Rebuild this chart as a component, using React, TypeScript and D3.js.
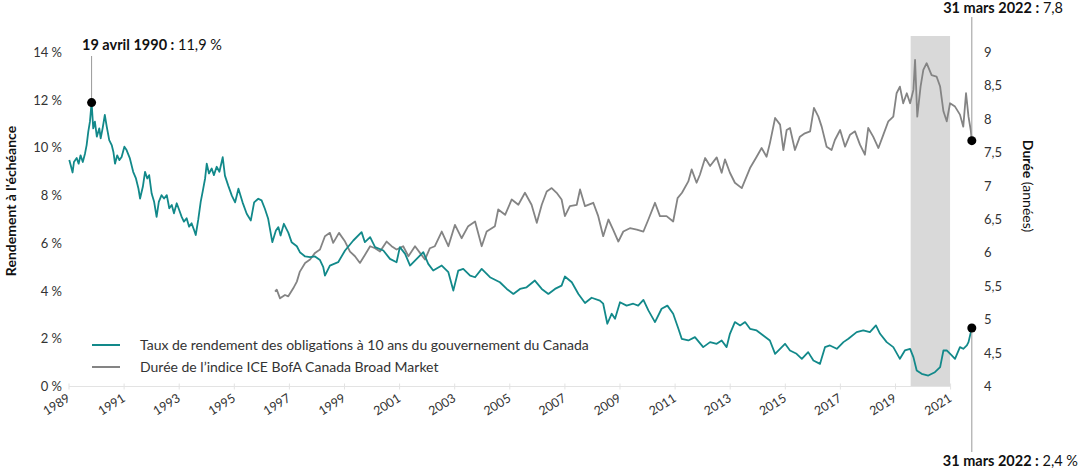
import React from "react";
import * as d3 from "d3";

// ---------- DATA ----------
// Government of Canada 10-year bond yield (%), [decimal year, value]
const yieldSeries: [number, number][] = [
  [1989.49,9.49],[1989.54,9.28],[1989.61,8.97],[1989.66,9.41],[1989.76,9.58],[1989.83,9.34],[1989.90,9.69],[1989.98,9.41],
  [1990.06,9.76],[1990.12,10.12],[1990.18,10.68],[1990.24,11.10],[1990.30,11.9],[1990.36,10.82],[1990.42,11.10],[1990.49,10.47],
  [1990.58,10.82],[1990.63,10.40],[1990.70,10.82],[1990.78,11.38],[1990.85,10.89],[1990.94,10.33],
  [1991.03,10.12],[1991.09,9.84],[1991.15,9.34],[1991.23,9.69],[1991.31,9.49],[1991.39,9.62],[1991.49,10.05],[1991.57,9.91],
  [1991.69,9.56],[1991.81,9.0],[1991.91,8.72],
  [1992.00,8.30],[1992.06,7.88],[1992.16,8.37],[1992.24,9.0],[1992.32,8.72],[1992.39,8.86],[1992.48,8.09],[1992.57,7.74],
  [1992.66,7.11],[1992.74,7.74],[1992.84,8.02],[1992.93,7.88],
  [1993.03,8.02],[1993.12,7.47],[1993.21,7.61],[1993.29,7.26],[1993.39,7.68],[1993.48,7.40],[1993.57,7.11],[1993.65,6.91],
  [1993.75,7.05],[1993.84,6.70],[1993.93,6.84],
  [1994.02,6.56],[1994.08,6.35],[1994.17,6.98],[1994.26,7.74],[1994.33,8.16],[1994.42,8.72],[1994.48,9.34],[1994.56,8.93],
  [1994.66,9.14],[1994.74,8.86],[1994.84,9.21],[1994.94,9.0],
  [1995.06,9.61],[1995.14,8.84],[1995.26,8.42],[1995.39,8.0],[1995.51,7.72],[1995.63,8.29],[1995.78,7.72],[1995.93,7.24],
  [1996.08,6.96],[1996.20,7.72],[1996.35,7.87],[1996.47,7.80],[1996.59,7.45],[1996.71,7.03],[1996.86,6.05],[1996.99,6.54],
  [1997.08,6.68],[1997.16,6.33],[1997.28,6.82],[1997.44,6.45],[1997.56,6.05],[1997.75,5.88],[1997.86,5.63],
  [1998.05,5.45],[1998.23,5.42],[1998.41,5.45],[1998.59,5.3],[1998.71,5.0],[1998.77,4.65],[1998.95,5.07],
  [1999.25,5.21],[1999.50,5.70],[1999.80,6.12],
  [2000.10,6.47],[2000.22,6.05],[2000.41,6.26],[2000.59,5.84],[2000.89,5.70],
  [2001.13,5.35],[2001.37,5.21],[2001.49,5.84],[2001.68,5.56],[2001.86,5.07],
  [2002.10,5.35],[2002.34,5.63],[2002.52,5.14],[2002.70,4.86],
  [2003.01,5.07],[2003.25,4.79],[2003.43,4.02],[2003.61,4.86],[2003.79,4.93],
  [2004.04,4.65],[2004.22,4.58],[2004.46,4.93],[2004.76,4.58],
  [2005.12,4.37],[2005.37,4.09],[2005.61,3.88],[2005.85,4.09],
  [2006.09,4.16],[2006.39,4.44],[2006.64,4.09],[2006.88,3.88],
  [2007.12,4.09],[2007.36,4.23],[2007.48,4.61],[2007.73,4.37],[2007.97,3.88],
  [2008.21,3.50],[2008.45,3.72],[2008.75,3.60],[2008.87,3.47],
  [2009.02,2.63],[2009.18,3.05],[2009.30,2.84],[2009.48,3.53],[2009.72,3.39],[2009.96,3.47],
  [2010.14,3.39],[2010.33,3.63],[2010.51,3.19],[2010.75,2.70],[2010.99,3.26],
  [2011.20,3.39],[2011.41,3.05],[2011.60,2.42],[2011.72,2.0],[2011.96,1.93],
  [2012.20,2.07],[2012.50,1.65],[2012.75,1.86],[2012.99,1.79],
  [2013.17,1.93],[2013.35,1.65],[2013.47,2.21],[2013.65,2.70],[2013.84,2.56],
  [2014.02,2.70],[2014.20,2.42],[2014.44,2.35],[2014.68,2.14],[2014.92,1.93],
  [2015.11,1.37],[2015.29,1.58],[2015.47,1.79],[2015.65,1.51],[2015.89,1.37],
  [2016.08,1.16],[2016.31,1.44],[2016.50,1.09],[2016.74,0.95],[2016.92,1.65],
  [2017.10,1.72],[2017.35,1.58],[2017.59,1.86],[2017.77,2.0],
  [2018.07,2.28],[2018.31,2.35],[2018.55,2.28],[2018.77,2.56],[2018.92,2.21],
  [2019.16,1.86],[2019.40,1.65],[2019.64,1.16],[2019.82,1.51],
  [2020.01,1.58],[2020.13,1.23],[2020.25,0.67],[2020.43,0.53],[2020.67,0.46],[2020.91,0.60],
  [2021.10,0.81],[2021.22,1.51],[2021.34,1.51],[2021.52,1.30],[2021.64,1.16],[2021.82,1.65],[2021.94,1.58],
  [2022.07,1.72],[2022.13,1.86],[2022.25,2.45],
];

// ICE BofA Canada Broad Market index duration (years), [decimal year, value]
const durationSeries: [number, number][] = [
  [1996.96,5.42],[1997.02,5.45],[1997.14,5.32],[1997.32,5.37],[1997.44,5.35],[1997.62,5.47],[1997.75,5.57],[1997.86,5.72],
  [1998.05,5.85],[1998.23,5.90],[1998.41,6.0],[1998.59,6.05],[1998.77,6.25],[1998.95,6.30],
  [1999.07,6.15],[1999.28,6.30],[1999.50,6.17],[1999.68,6.02],[1999.86,5.95],
  [2000.04,5.85],[2000.22,5.97],[2000.41,6.10],[2000.59,6.07],[2000.77,6.02],
  [2001.01,6.17],[2001.19,6.10],[2001.37,6.05],[2001.61,6.10],[2001.80,5.95],
  [2002.04,6.10],[2002.22,6.0],[2002.40,5.90],[2002.58,6.07],[2002.76,6.10],
  [2003.01,6.32],[2003.25,6.10],[2003.49,6.42],[2003.73,6.22],[2003.97,6.40],
  [2004.22,6.47],[2004.46,6.10],[2004.64,6.32],[2004.94,6.40],
  [2005.06,6.65],[2005.31,6.57],[2005.55,6.80],[2005.79,6.72],
  [2006.03,6.90],[2006.27,6.72],[2006.46,6.45],[2006.64,6.72],[2006.82,6.92],
  [2007.00,6.97],[2007.18,6.90],[2007.36,6.80],[2007.48,6.55],[2007.66,6.70],[2007.91,6.72],
  [2008.03,6.95],[2008.21,6.70],[2008.51,6.75],[2008.69,6.55],[2008.87,6.25],
  [2009.06,6.50],[2009.23,6.35],[2009.42,6.17],[2009.60,6.32],[2009.84,6.37],
  [2010.09,6.35],[2010.33,6.32],[2010.51,6.50],[2010.75,6.75],[2010.93,6.55],
  [2011.17,6.55],[2011.41,6.47],[2011.57,6.82],[2011.73,6.90],[2011.96,7.07],
  [2012.08,7.25],[2012.26,7.05],[2012.38,7.17],[2012.57,7.42],[2012.75,7.30],[2012.99,7.43],
  [2013.17,7.20],[2013.29,7.40],[2013.47,7.20],[2013.65,7.05],[2013.90,6.97],
  [2014.08,7.15],[2014.20,7.27],[2014.44,7.44],[2014.62,7.57],[2014.80,7.44],[2014.92,7.64],
  [2015.11,8.02],[2015.29,7.92],[2015.41,7.54],[2015.53,7.84],[2015.65,7.87],[2015.83,7.54],
  [2016.01,7.74],[2016.19,7.79],[2016.38,7.82],[2016.52,8.17],[2016.68,8.04],[2016.80,7.89],[2016.98,7.59],
  [2017.16,7.54],[2017.28,7.69],[2017.47,7.84],[2017.65,7.59],[2017.83,7.77],
  [2018.01,7.82],[2018.19,7.62],[2018.37,7.47],[2018.49,7.87],[2018.67,7.74],[2018.86,7.57],
  [2019.04,7.77],[2019.22,7.97],[2019.40,8.04],[2019.52,8.39],[2019.64,8.49],[2019.76,8.24],[2019.89,8.39],
  [2020.01,8.24],[2020.13,8.44],[2020.19,8.89],[2020.27,8.04],[2020.39,8.49],[2020.49,8.74],[2020.61,8.84],
  [2020.79,8.66],[2020.97,8.64],
  [2021.10,8.49],[2021.22,8.12],[2021.34,7.97],[2021.46,8.24],[2021.64,8.19],[2021.82,8.07],[2021.94,7.89],
  [2022.04,8.39],[2022.13,8.04],[2022.21,7.84],[2022.25,7.68],
];

const xTickYears = [1989,1991,1993,1995,1997,1999,2001,2003,2005,2007,2009,2011,2013,2015,2017,2019,2021];
const tickYearOffset = 0.48; // tick marks sit mid-year
const leftTicks = [0,2,4,6,8,10,12,14];
const rightTicks = [4,4.5,5,5.5,6,6.5,7,7.5,8,8.5,9];
const shadedPeriod = [2020.03, 2021.46];

const peakYield = { year: 1990.30, value: 11.9, label: "19 avril 1990 :", valueText: " 11,9 %" };
const lastYield = { year: 2022.25, value: 2.45, label: "31 mars 2022 :", valueText: " 2,4 %" };
const lastDuration = { year: 2022.25, value: 7.68, label: "31 mars 2022 :", valueText: " 7,8" };

const legendLabels = [
  "Taux de rendement des obligations à 10 ans du gouvernement du Canada",
  "Durée de l’indice ICE BofA Canada Broad Market",
];

// ---------- STYLE ----------
const TEAL = "#12898a";
const GREY = "#848484";
const TEXT = "#333333";
const FONT = "Lato, 'Noto Sans', sans-serif";

export default function App() {
  const W = 1080, H = 472;
  const x = d3.scaleLinear().domain([1989 + tickYearOffset, 2021 + tickYearOffset]).range([69, 950.6]);
  const yL = d3.scaleLinear().domain([0, 14]).range([386.5, 52.5]);
  const yR = d3.scaleLinear().domain([4, 9]).range([386.5, 52.5]);

  const lineL = d3.line<[number, number]>().x(d => x(d[0])).y(d => yL(d[1]));
  const lineR = d3.line<[number, number]>().x(d => x(d[0])).y(d => yR(d[1]));

  const axisY = yL(0);
  const fmt = (v: number) => String(v).replace(".", ",");

  return (
    <svg width={W} height={H} style={{ position: "absolute", left: 0, top: 0, background: "#fff" }} fontFamily={FONT}>
      {/* shaded period */}
      <rect x={x(shadedPeriod[0])} y={36} width={x(shadedPeriod[1]) - x(shadedPeriod[0])} height={axisY - 36} fill="#d9d9d9" />

      {/* x axis */}
      <line x1={x(1989 + tickYearOffset)} x2={x(2021 + tickYearOffset)} y1={axisY} y2={axisY} stroke="#e3e3e3" strokeWidth={1} />
      {xTickYears.map(yr => {
        const px = x(yr + tickYearOffset);
        return (
          <g key={yr}>
            <line x1={px} x2={px} y1={axisY - 3} y2={axisY + 3} stroke="#e3e3e3" />
            <text x={px + 2} y={axisY + 14} fontSize={12.5} fill={TEXT} textAnchor="end"
              transform={`rotate(-32, ${px + 2}, ${axisY + 14})`}>{yr}</text>
          </g>
        );
      })}

      {/* left ticks */}
      {leftTicks.map(v => (
        <text key={v} x={62} y={yL(v)} dy="0.35em" fontSize={13} fill={TEXT} textAnchor="end">{`${v} %`}</text>
      ))}
      {/* right ticks */}
      {rightTicks.map(v => (
        <text key={v} x={984} y={yR(v)} dy="0.35em" fontSize={13} fill={TEXT} textAnchor="start">{fmt(v)}</text>
      ))}

      {/* axis titles */}
      <text transform={`translate(16, 201) rotate(-90)`} textAnchor="middle" fontSize={14} fontWeight="bold" fill="#111">Rendement à l'échéance</text>
      <text transform={`translate(1023, 186) rotate(90)`} textAnchor="middle" fontSize={14} fill="#111">
        <tspan fontWeight="bold">Durée</tspan> (années)
      </text>

      {/* series */}
      <path d={lineR(durationSeries) || ""} fill="none" stroke={GREY} strokeWidth={1.8} strokeLinejoin="round" />
      <path d={lineL(yieldSeries) || ""} fill="none" stroke={TEAL} strokeWidth={1.8} strokeLinejoin="round" />

      {/* annotations */}
      <line x1={x(peakYield.year)} x2={x(peakYield.year)} y1={56} y2={yL(peakYield.value)} stroke="#9a9a9a" />
      <circle cx={x(peakYield.year)} cy={yL(peakYield.value)} r={4.5} fill="#000" />
      <text x={82} y={50} fontSize={14.5} fill="#111">
        <tspan fontWeight="bold">{peakYield.label}</tspan>{peakYield.valueText}
      </text>

      <line x1={x(lastDuration.year)} x2={x(lastDuration.year)} y1={17} y2={yR(lastDuration.value)} stroke="#9a9a9a" />
      <circle cx={x(lastDuration.year)} cy={yR(lastDuration.value)} r={4.5} fill="#000" />
      <text x={1063} y={13} fontSize={14.5} fill="#111" textAnchor="end">
        <tspan fontWeight="bold">{lastDuration.label}</tspan>{lastDuration.valueText}
      </text>

      <line x1={x(lastYield.year)} x2={x(lastYield.year)} y1={yL(lastYield.value)} y2={452} stroke="#9a9a9a" />
      <circle cx={x(lastYield.year)} cy={yL(lastYield.value)} r={4.5} fill="#000" />
      <text x={1078} y={466} fontSize={14.5} fill="#111" textAnchor="end">
        <tspan fontWeight="bold">{lastYield.label}</tspan>{lastYield.valueText}
      </text>

      {/* legend */}
      {legendLabels.map((lab, i) => (
        <g key={lab} transform={`translate(92, ${345 + i * 22})`}>
          <line x1={0} x2={28} y1={0} y2={0} stroke={i === 0 ? TEAL : GREY} strokeWidth={2} />
          <text x={48} y={0} dy="0.35em" fontSize={14} fill={TEXT}>{lab}</text>
        </g>
      ))}
    </svg>
  );
}
